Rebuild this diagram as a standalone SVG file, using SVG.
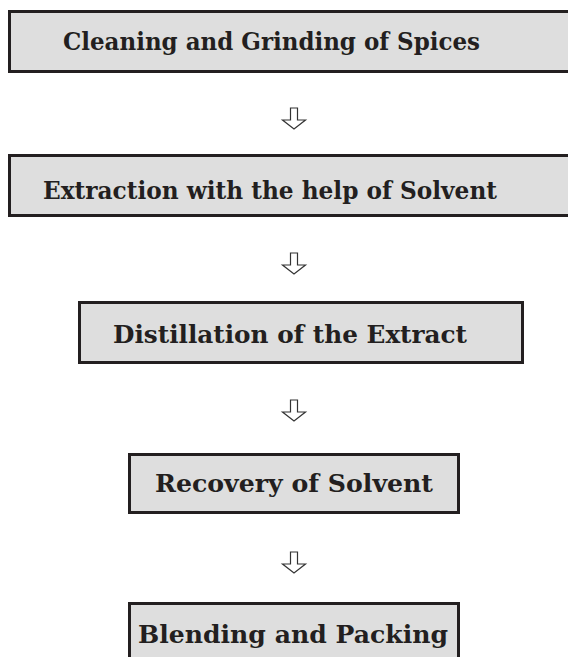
<svg xmlns="http://www.w3.org/2000/svg" width="568" height="657" viewBox="0 0 568 657">
<style>
.box{fill:#dedede;stroke:#231f20;stroke-width:3}
.lbl{font-family:"DejaVu Serif","Liberation Serif",serif;font-weight:bold;font-size:24px;fill:#231f20;text-anchor:middle}
.arr{fill:#fff;stroke:#333;stroke-width:1.2;stroke-linejoin:miter}
</style>
<defs>
<path id="dn" class="arr" d="M-3.5 0H3.5V12H11.5L0 21L-11.5 12H-3.5Z"/>
</defs>
<rect width="568" height="657" fill="#fff"/>
<g id="connectors">
<use href="#dn" x="294" y="108"/>
<use href="#dn" x="294" y="253"/>
<use href="#dn" x="294" y="400"/>
<use href="#dn" x="294" y="552"/>
</g>
<g id="n1">
<rect class="box" x="9.5" y="11.5" width="580" height="60"/>
<text class="lbl" x="271.5" y="50" textLength="417" lengthAdjust="spacingAndGlyphs">Cleaning and Grinding of Spices</text>
</g>
<g id="n2">
<rect class="box" x="9.5" y="155.5" width="580" height="60"/>
<text class="lbl" x="270" y="199" textLength="454" lengthAdjust="spacingAndGlyphs">Extraction with the help of Solvent</text>
</g>
<g id="n3">
<rect class="box" x="79.5" y="302.5" width="443" height="60"/>
<text class="lbl" x="290" y="343" textLength="354" lengthAdjust="spacingAndGlyphs">Distillation of the Extract</text>
</g>
<g id="n4">
<rect class="box" x="129.5" y="454.5" width="329" height="58"/>
<text class="lbl" x="294" y="492" textLength="278" lengthAdjust="spacingAndGlyphs">Recovery of Solvent</text>
</g>
<g id="n5">
<rect class="box" x="129.5" y="603.5" width="329" height="80"/>
<text class="lbl" x="293" y="643" textLength="310" lengthAdjust="spacingAndGlyphs">Blending and Packing</text>
</g>
</svg>
